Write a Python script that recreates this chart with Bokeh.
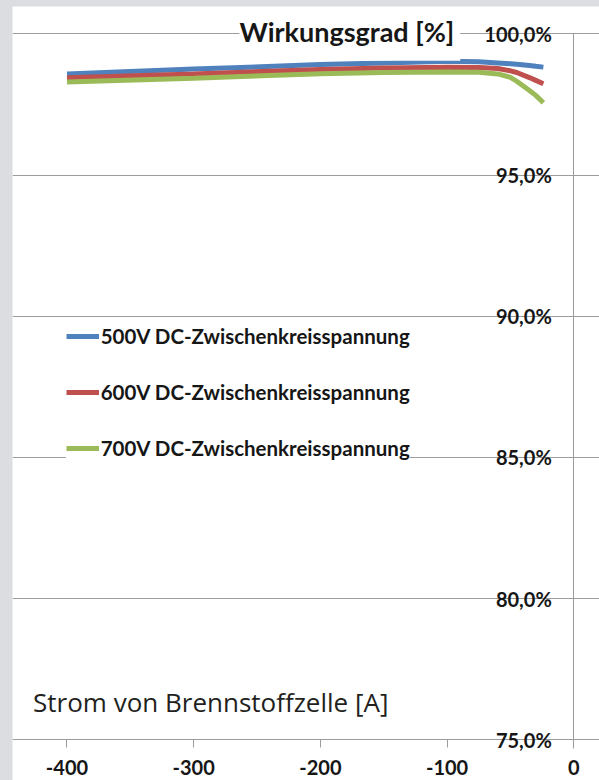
from bokeh.plotting import figure
from bokeh.models import Range1d, FixedTicker, Label
from bokeh.embed import file_html
from bokeh.resources import INLINE

# ---- data ----
strom = [-400, -300, -200, -150, -100, -75, -60, -50, -45, -35, -30, -24]
eff_500 = [98.58, 98.75, 98.91, 98.97, 99.03, 99.01, 98.97, 98.94, 98.92, 98.88, 98.85, 98.82]
eff_600 = [98.44, 98.58, 98.74, 98.79, 98.82, 98.81, 98.77, 98.69, 98.63, 98.45, 98.35, 98.23]
eff_700 = [98.29, 98.43, 98.59, 98.63, 98.65, 98.64, 98.58, 98.46, 98.32, 97.99, 97.82, 97.56]
series_names = ["500V DC-Zwischenkreisspannung", "600V DC-Zwischenkreisspannung", "700V DC-Zwischenkreisspannung"]
series_colors = ["#4f81bd", "#c0504d", "#9bbb59"]
x_ticks = [-400, -300, -200, -100, 0]
x_tick_labels = ["-400", "-300", "-200", "-100", "0"]
y_ticks = [75, 80, 85, 90, 95, 100]
y_tick_labels = ["75,0%", "80,0%", "85,0%", "90,0%", "95,0%", "100,0%"]
title_text = "Wirkungsgrad [%]"
xlabel_text = "Strom von Brennstoffzelle [A]"

p = figure(width=599, height=780, output_backend="svg", toolbar_location=None,
           x_range=Range1d(-443.0, 20.3), y_range=Range1d(73.56, 100.967),
           min_border_left=12, min_border_right=0, min_border_top=6, min_border_bottom=0)
p.background_fill_color = "white"
p.border_fill_color = "#dcdde0"
p.outline_line_color = None

# grid
p.xgrid.visible = False
p.ygrid.ticker = FixedTicker(ticks=y_ticks)
p.ygrid.grid_line_color = "#9c9c9c"
p.ygrid.grid_line_width = 1

# y axis at x = 0
ya = p.yaxis[0]
ya.fixed_location = 0
ya.ticker = FixedTicker(ticks=y_ticks)
ya.major_label_overrides = {t: l for t, l in zip(y_ticks, y_tick_labels)}
ya.bounds = (74.7, 100)
ya.axis_line_color = "#9c9c9c"
ya.major_tick_line_color = None
ya.minor_tick_line_color = None
ya.major_tick_out = 0
ya.major_tick_in = 0
ya.major_label_standoff = 22
ya.major_label_text_font = "Lato"
ya.major_label_text_font_style = "bold"
ya.major_label_text_font_size = "20px"
ya.major_label_text_color = "#161616"

# x axis at y = 75
xa = p.xaxis[0]
xa.fixed_location = 75
xa.ticker = FixedTicker(ticks=x_ticks)
xa.major_label_overrides = {t: l for t, l in zip(x_ticks, x_tick_labels)}
xa.axis_line_color = "#9c9c9c"
xa.major_tick_line_color = "#9c9c9c"
xa.major_tick_out = 8
xa.major_tick_in = 0
xa.minor_tick_line_color = None
xa.major_label_standoff = 12
xa.major_label_text_font = "Lato"
xa.major_label_text_font_style = "bold"
xa.major_label_text_font_size = "20px"
xa.major_label_text_color = "#161616"

# lines
for vals, name, col in zip([eff_500, eff_600, eff_700], series_names, series_colors):
    p.line(strom, vals, line_color=col, line_width=5, legend_label=name)

lg = p.legend[0]
lg.location = (53.7, 320.5)
lg.background_fill_color = "white"
lg.background_fill_alpha = 1
lg.border_line_color = None
lg.padding = 8
lg.margin = 0
lg.glyph_width = 33
lg.glyph_height = 20
lg.label_height = 20
lg.label_standoff = 2
lg.spacing = 32
lg.label_text_font = "Lato"
lg.label_text_font_style = "bold"
lg.label_text_font_size = "20.5px"
lg.label_text_color = "#161616"
lg.label_text_baseline = "middle"

title = Label(x=-263.9, y=99.86, text=title_text, text_baseline="middle",
              text_font="Lato", text_font_style="bold", text_font_size="27px",
              text_color="#161616", background_fill_color="white",
              padding=(0, 6, 0, 13))
p.add_layout(title)

xlab = Label(x=-426.8, y=76.35, text=xlabel_text, text_baseline="alphabetic",
             text_font="Open Sans", text_font_size="26px", text_color="#231f20")
p.add_layout(xlab)

html = file_html(p, INLINE)
html = html.replace("</head>", "<style>html,body{margin:0;padding:0;background-color:#dcdde0;}</style></head>", 1)
open("out.html", "w").write(html)
